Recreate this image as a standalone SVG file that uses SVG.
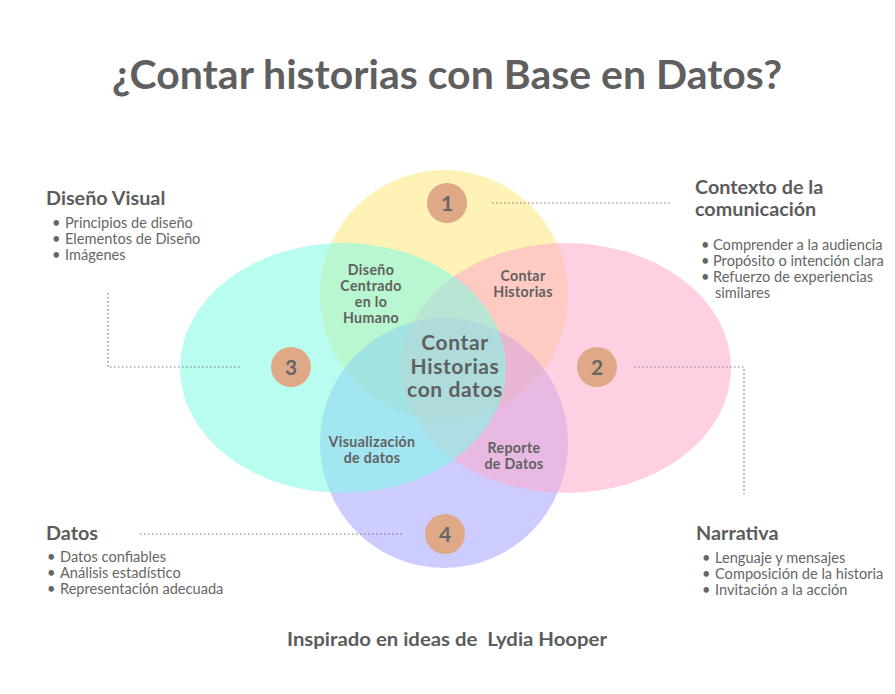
<svg xmlns="http://www.w3.org/2000/svg" width="895" height="694" viewBox="0 0 895 694">
<style>
text{font-family:Lato,"Open Sans","DejaVu Sans",sans-serif;fill:#616161}
.title{font-size:40px;font-weight:700;fill:#5f5f5f}
.h{font-size:19.8px;font-weight:700;fill:#5c5c5c}
.b{font-size:14.6px;fill:#666}
.lab{font-size:14.2px;font-weight:700;text-anchor:middle;fill:#616161;letter-spacing:0.35px}
.ctr{font-size:21px;font-weight:700;text-anchor:middle;fill:#5f5f5f;letter-spacing:0.6px}
.num{font-size:21px;font-weight:700;text-anchor:middle;fill:#666}
.nc{fill:#DFA988}
.dot{fill:none;stroke:#777;stroke-width:1.2;stroke-dasharray:1.5 2.5}
</style>
<rect width="895" height="694" fill="#fff"/>
<text class="title" x="112" y="89" textLength="670" lengthAdjust="spacingAndGlyphs">¿Contar historias con Base en Datos?</text>
<g id="venn">
<ellipse id="set-yellow" cx="444" cy="295" rx="124" ry="125" fill="#FEF2B6"/>
<ellipse id="set-purple" cx="444" cy="443" rx="124" ry="125" fill="#A4A2FD" fill-opacity="0.55"/>
<ellipse id="set-pink" cx="566" cy="368" rx="165" ry="125" fill="#FFAACA" fill-opacity="0.55"/>
<ellipse id="set-cyan" cx="343" cy="368" rx="163" ry="125" fill="#7EFBE4" fill-opacity="0.55"/>
</g>
<g id="connectors">
<path class="dot" d="M492 203H670"/>
<path class="dot" d="M108 293V367H241"/>
<path class="dot" d="M634 367H744V494"/>
<path class="dot" d="M140 534H402"/>
</g>
<g id="n1"><circle class="nc" cx="447" cy="203" r="20"/><text class="num" x="447" y="210.5">1</text></g>
<g id="n2"><circle class="nc" cx="597" cy="367" r="20"/><text class="num" x="597" y="374.5">2</text></g>
<g id="n3"><circle class="nc" cx="291" cy="367" r="20"/><text class="num" x="291" y="374.5">3</text></g>
<g id="n4"><circle class="nc" cx="445" cy="534" r="20"/><text class="num" x="445" y="541.5">4</text></g>
<g id="lab-dch"><text class="lab"><tspan x="371" y="275">Diseño</tspan><tspan x="371" y="291">Centrado</tspan><tspan x="371" y="307">en lo</tspan><tspan x="371" y="323">Humano</tspan></text></g>
<g id="lab-ch"><text class="lab"><tspan x="523" y="281">Contar</tspan><tspan x="523" y="297">Historias</tspan></text></g>
<g id="lab-vd"><text class="lab"><tspan x="372" y="447">Visualización</tspan><tspan x="372" y="463">de datos</tspan></text></g>
<g id="lab-rd"><text class="lab"><tspan x="514" y="453">Reporte</tspan><tspan x="514" y="469">de Datos</tspan></text></g>
<g id="center"><text class="ctr"><tspan x="455" y="350">Contar</tspan><tspan x="455" y="373.5">Historias</tspan><tspan x="455" y="397">con datos</tspan></text></g>
<g id="diseno-visual">
<text class="h" x="46" y="205">Diseño Visual</text>
<text class="b"><tspan x="52" y="228">•</tspan><tspan x="65" y="228">Principios de diseño</tspan><tspan x="52" y="244">•</tspan><tspan x="65" y="244">Elementos de Diseño</tspan><tspan x="52" y="260">•</tspan><tspan x="65" y="260">Imágenes</tspan></text>
</g>
<g id="contexto">
<text class="h"><tspan x="695" y="194">Contexto de la</tspan><tspan x="695" y="216">comunicación</tspan></text>
<text class="b"><tspan x="701" y="250">•</tspan><tspan x="713" y="250">Comprender a la audiencia</tspan><tspan x="701" y="266">•</tspan><tspan x="713" y="266">Propósito o intención clara</tspan><tspan x="701" y="282">•</tspan><tspan x="713" y="282">Refuerzo de experiencias</tspan><tspan x="715" y="298">similares</tspan></text>
</g>
<g id="datos">
<text class="h" x="46" y="540">Datos</text>
<text class="b"><tspan x="47" y="562">•</tspan><tspan x="60" y="562">Datos confiables</tspan><tspan x="47" y="578">•</tspan><tspan x="60" y="578">Análisis estadístico</tspan><tspan x="47" y="594">•</tspan><tspan x="60" y="594">Representación adecuada</tspan></text>
</g>
<g id="narrativa">
<text class="h" x="696" y="540">Narrativa</text>
<text class="b"><tspan x="702" y="563">•</tspan><tspan x="715" y="563">Lenguaje y mensajes</tspan><tspan x="702" y="579">•</tspan><tspan x="715" y="579">Composición de la historia</tspan><tspan x="702" y="595">•</tspan><tspan x="715" y="595">Invitación a la acción</tspan></text>
</g>
<text class="h" x="287" y="646" textLength="320" lengthAdjust="spacingAndGlyphs" xml:space="preserve">Inspirado en ideas de  Lydia Hooper</text>
</svg>
